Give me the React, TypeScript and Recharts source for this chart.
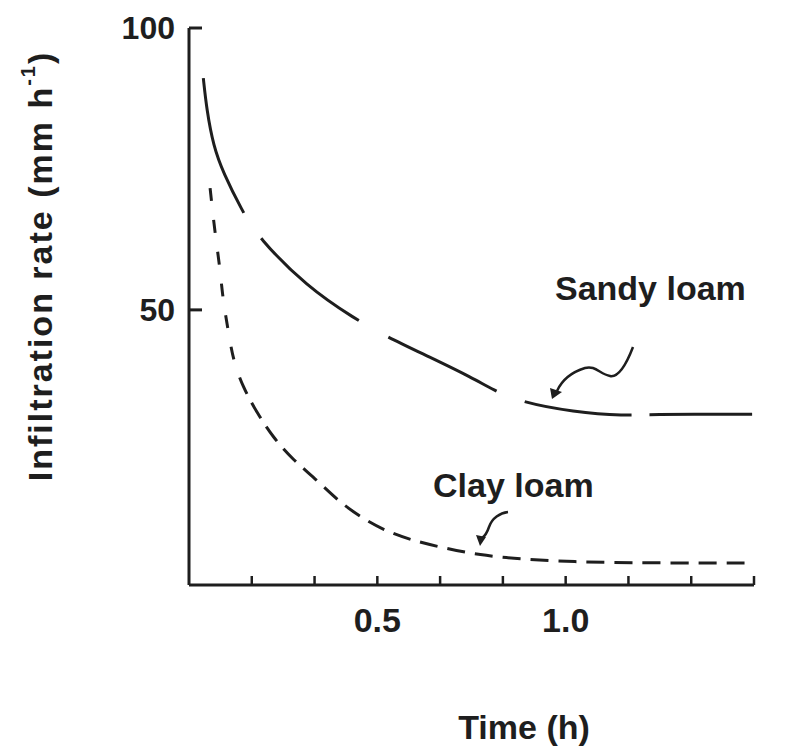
import React from 'react';
import { LineChart, Line, XAxis, YAxis } from 'recharts';

// Sandy loam curve (time in h, infiltration rate in mm/h)
const sandyTime = [0.038, 0.047, 0.065, 0.091, 0.14, 0.183, 0.313, 0.441, 0.52, 0.64, 0.754, 0.807, 0.879, 1.019, 1.163, 1.21, 1.495];
const sandyRate = [91.1, 85.5, 79.0, 74.3, 67.7, 62.9, 54.1, 48.4, 45.4, 41.6, 37.9, 35.8, 33.7, 31.9, 31.2, 31.5, 31.5];

// Clay loam curve
const clayTime = [0.056, 0.069, 0.082, 0.09, 0.104, 0.117, 0.143, 0.181, 0.223, 0.276, 0.34, 0.393, 0.454, 0.515, 0.587, 0.674, 0.772, 0.879, 1.011, 1.224, 1.5];
const clayRate = [71.6, 63.6, 57.6, 51.8, 46.4, 41.1, 36.3, 31.7, 27.4, 23.4, 19.8, 16.3, 13.3, 11.0, 9.2, 7.8, 6.5, 5.8, 5.3, 5.1, 5.1];

// x ticks every 10 minutes, only two labelled
const xTickMinutes = [10, 20, 30, 40, 50, 60, 70, 80, 90];
const xTickLabels = ['', '', '0.5', '', '', '1.0', '', '', ''];
const yTicks = [50, 100];

const sandyData = sandyTime.map((t, i) => ({ t, rate: sandyRate[i] }));
const clayData = clayTime.map((t, i) => ({ t, rate: clayRate[i] }));
const xTicks = xTickMinutes.map((m) => m / 60);

const ink = '#1e1e1e';
const font = '"Liberation Sans", Arial, sans-serif';

const sandyDash = '142 31 128 34 121 30 108 18 140';
const clayDash = [
    ...Array(6).fill('13 19'),
    ...Array(30).fill('18 10'),
].join(' ');

const XTick = (props: any) => {
    const { x, y, payload } = props;
    const idx = xTicks.findIndex((v) => Math.abs(v - payload.value) < 1e-6);
    const label = idx >= 0 ? xTickLabels[idx] : '';
    return (
        <g>
            <line x1={x} y1={y} x2={x} y2={y - 9} stroke={ink} strokeWidth={2.5} />
            <text x={x} y={y + 47} textAnchor="middle" fontSize={34} fontWeight="bold" fontFamily={font} fill={ink}>
                {label}
            </text>
        </g>
    );
};

const YTick = (props: any) => {
    const { x, y, payload } = props;
    return (
        <g>
            <line x1={x} y1={y} x2={x + 13} y2={y} stroke={ink} strokeWidth={3} />
            <text x={x - 14} y={y + 11} textAnchor="end" fontSize={32} fontWeight="bold" fontFamily={font} fill={ink}>
                {payload.value}
            </text>
        </g>
    );
};

export default function App() {
    return (
        <div style={{ position: 'absolute', left: 0, top: 0, width: 796, height: 751, background: '#fff' }}>
            <LineChart width={796} height={751} margin={{ top: 28, right: 42, bottom: 106, left: 109 }}>
                <XAxis
                    type="number"
                    dataKey="t"
                    domain={[0, 1.5]}
                    ticks={xTicks}
                    interval={0}
                    height={60}
                    tickSize={0}
                    tickMargin={0}
                    tickLine={false}
                    axisLine={{ stroke: ink, strokeWidth: 3 }}
                    tick={<XTick />}
                />
                <YAxis
                    type="number"
                    domain={[1.2, 100]}
                    ticks={yTicks}
                    width={80}
                    tickSize={0}
                    tickMargin={0}
                    tickLine={false}
                    allowDataOverflow
                    axisLine={{ stroke: ink, strokeWidth: 3 }}
                    tick={<YTick />}
                />
                <Line
                    data={sandyData}
                    dataKey="rate"
                    type="basis"
                    stroke={ink}
                    strokeWidth={3}
                    strokeDasharray={sandyDash}
                    dot={false}
                    activeDot={false}
                    isAnimationActive={false}
                />
                <Line
                    data={clayData}
                    dataKey="rate"
                    type="basis"
                    stroke={ink}
                    strokeWidth={3}
                    strokeDasharray={clayDash}
                    dot={false}
                    activeDot={false}
                    isAnimationActive={false}
                />
            </LineChart>

            {/* axis titles, curve labels and the hand-drawn pointer arrows */}
            <svg width={796} height={751} style={{ position: 'absolute', left: 0, top: 0, pointerEvents: 'none' }}>
                <text
                    transform="translate(40,266) rotate(-90)"
                    textAnchor="middle"
                    dominantBaseline="central"
                    fontSize={34}
                    fontWeight="bold"
                    fontFamily={font}
                    letterSpacing={2}
                    fill={ink}
                >
                    <tspan>Infiltration rate (mm h</tspan>
                    <tspan dy={-12} fontSize={20}>-1</tspan>
                    <tspan dy={12}>)</tspan>
                </text>
                <text x={524} y={739} textAnchor="middle" fontSize={34} fontWeight="bold" fontFamily={font} fill={ink}>
                    Time (h)
                </text>
                <text x={555} y={300} fontSize={34} fontWeight="bold" fontFamily={font} fill={ink}>
                    Sandy loam
                </text>
                <text x={433} y={497} fontSize={34} fontWeight="bold" fontFamily={font} fill={ink}>
                    Clay loam
                </text>
                <path
                    d="M633,347 C628,360 620,378 610,376 C600,374 595,365 585,368 C572,372 562,380 557,391"
                    fill="none"
                    stroke={ink}
                    strokeWidth={2.5}
                />
                <polygon points="552,399 550,388 562,392" fill={ink} />
                <path
                    d="M508,512 C500,513 492,518 489,527 C487,533 485,536 482,538"
                    fill="none"
                    stroke={ink}
                    strokeWidth={2.5}
                />
                <polygon points="480,546 476,535 486,537" fill={ink} />
            </svg>
        </div>
    );
}
